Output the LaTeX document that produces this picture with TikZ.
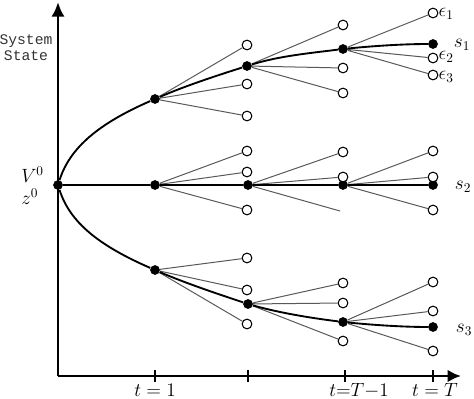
\documentclass[tikz,border=0pt]{standalone}
\usepackage{fontspec}
\newfontfamily\courier{Liberation Mono}
\usetikzlibrary{arrows.meta}
\tikzset{
  state/.style={circle,fill=black,inner sep=0pt,minimum size=7.3pt},
  leaf/.style={circle,draw=black,fill=white,line width=0.8pt,inner sep=0pt,minimum size=7.3pt},
  branch/.style={draw=black!65,line width=0.75pt},
  path/.style={draw=black,line width=1.4pt},
  axis/.style={draw=black,line width=2.2pt}
}
\begin{document}
\begin{tikzpicture}[x=0.75pt,y=-0.75pt,font=\fontsize{14}{16}\selectfont]
\useasboundingbox (0,0) rectangle (474,399);

% axes
\coordinate (o) at (58,376);
\coordinate (ytop) at (58,2);
\coordinate (xend) at (461,376);
\draw[axis,-{Latex[length=11pt,width=10pt]}] (o) -- (ytop);
\draw[axis,-{Latex[length=10pt,width=9.5pt]}] (o) -- (xend);
\foreach \tx in {155,248,345,433}
  \draw[line width=1.1pt] (\tx,370) -- (\tx,382);
\node[anchor=base,inner sep=0pt] (t1) at (155,396) {$t=1$};
\node[anchor=base,inner sep=0pt] (tT1) at (359,396) {$t{=}T{-}1$};
\node[anchor=base,inner sep=0pt] (tT) at (435,396) {$t=T$};
\node[font=\courier\fontsize{11}{12}\selectfont,text=black!80,align=center,inner sep=0pt] (sys) at (26,48) {System\\State};

% states on the three paths
\node[state] (r) at (58,185) {};
\node[anchor=base west,inner sep=0pt] (v0) at (21,182) {$V^0$};
\node[anchor=base west,inner sep=0pt] (z0) at (21,204) {$z^0$};

\node[state] (u1) at (155,99) {};
\node[state] (u2) at (247,66) {};
\node[state] (u3) at (343,49) {};
\node[state] (u4) at (433,44) {};
\node[state] (m1) at (155,185) {};
\node[state] (m2) at (248,185) {};
\node[state] (m3) at (343,185) {};
\node[state] (m4) at (433,185) {};
\node[state] (l1) at (155,270) {};
\node[state] (l2) at (248,304) {};
\node[state] (l3) at (343,322) {};
\node[state] (l4) at (433,327) {};

% leaves
\node[leaf] (u1a) at (247,45) {};
\node[leaf] (u1b) at (247,84) {};
\node[leaf] (u1c) at (247,116) {};
\node[leaf] (u2a) at (343,25) {};
\node[leaf] (u2b) at (343,68) {};
\node[leaf] (u2c) at (343,93) {};
\node[leaf] (e1) at (433,13) {};
\node[leaf] (e2) at (433,58) {};
\node[leaf] (e3) at (433,75) {};

\node[leaf] (m1a) at (247,151) {};
\node[leaf] (m1b) at (247,172) {};
\node[leaf] (m1c) at (247,210) {};
\node[leaf] (m2a) at (343,152) {};
\node[leaf] (m2b) at (343,177) {};
\coordinate (m2c) at (340,211);
\node[leaf] (m3a) at (433,151) {};
\node[leaf] (m3b) at (433,177) {};
\node[leaf] (m3c) at (433,210) {};

\node[leaf] (l1a) at (247,258) {};
\node[leaf] (l1b) at (247,290) {};
\node[leaf] (l1c) at (247,324) {};
\node[leaf] (l2a) at (343,283) {};
\node[leaf] (l2b) at (343,303) {};
\node[leaf] (l2c) at (343,341) {};
\node[leaf] (l3a) at (433,282) {};
\node[leaf] (l3b) at (433,311) {};
\node[leaf] (l3c) at (433,351) {};

% branches
\foreach \s/\a/\b/\c in {u1/u1a/u1b/u1c,u2/u2a/u2b/u2c,u3/e1/e2/e3,
    m1/m1a/m1b/m1c,m2/m2a/m2b/m2c,m3/m3a/m3b/m3c,
    l1/l1a/l1b/l1c,l2/l2a/l2b/l2c,l3/l3a/l3b/l3c}
  \draw[branch] (\s) -- (\a) (\s) -- (\b) (\s) -- (\c);

% scenario paths
\draw[path] (r) .. controls +(12,-38) and +(-55,24) .. (u1)
  .. controls +(30,-13) and +(-30,9.5) .. (u2)
  .. controls +(32,-10) and +(-32,4) .. (u3)
  .. controls +(30,-3) and +(-30,0) .. (u4);
\draw[path] (r) -- (m1) -- (m2) -- (m3) -- (m4);
\draw[path] (r) .. controls +(12,38) and +(-55,-24) .. (l1)
  .. controls +(30,13) and +(-30,-10) .. (l2)
  .. controls +(32,9) and +(-32,-4) .. (l3)
  .. controls +(30,3) and +(-30,0) .. (l4);

% labels
\node[anchor=west,inner sep=0pt] at ([yshift=-0.5pt]e1.east) {$\epsilon_1$};
\node[anchor=west,inner sep=0pt] at ([yshift=1pt]e2.east) {$\epsilon_2$};
\node[anchor=west,inner sep=0pt] at ([yshift=-1.5pt]e3.east) {$\epsilon_3$};
\node (s1) at (462,45) {$s_1$};
\node (s2) at (463,187) {$s_2$};
\node (s3) at (464,330) {$s_3$};
\end{tikzpicture}
\end{document}
